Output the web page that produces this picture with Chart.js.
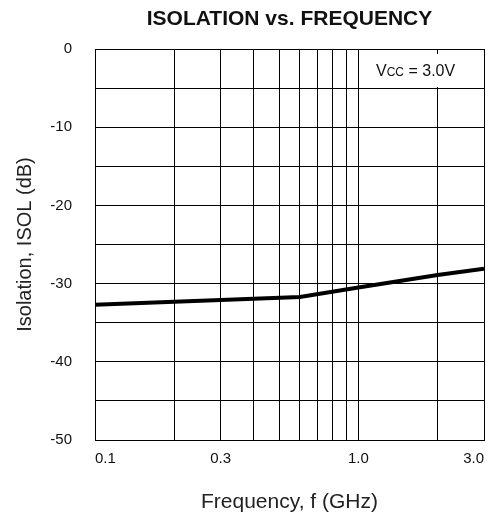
<!DOCTYPE html>
<html>
<head>
<meta charset="utf-8">
<title>Isolation vs. Frequency</title>
<script src="https://cdn.jsdelivr.net/npm/chart.js@4/dist/chart.umd.min.js"></script>
<style>
  html, body { margin: 0; padding: 0; background: #fff; }
  #wrap { width: 494px; height: 517px; position: relative; }
</style>
</head>
<body>
<div id="wrap"><canvas id="isoChart"></canvas></div>
<script>
// measured isolation curve, Vcc = 3.0V
const freqGHz = [0.1, 0.3, 0.6, 1.0, 2.0, 3.0];
const isolationDb = [-32.7, -32.1, -31.7, -30.5, -28.9, -28.1];

// log grid lines and which of them get a label
const freqGrid = [0.1, 0.2, 0.3, 0.4, 0.5, 0.6, 0.7, 0.8, 0.9, 1.0, 2.0, 3.0];
const freqLabels = [0.1, 0.3, 1.0, 3.0];
const dbLabelStep = 10;

const FONT = '"Liberation Sans", Arial, Helvetica, sans-serif';
const INK = '#111';

// white box with "VCC = 3.0V" in the top-right corner of the plot
const vccNote = {
  id: 'vccNote',
  beforeDatasetsDraw(chart) {
    const { ctx, chartArea } = chart;
    const x0 = chartArea.right - 116;
    const y0 = chartArea.top + 5;
    ctx.save();
    ctx.fillStyle = '#fff';
    ctx.fillRect(x0, y0, 97, 33);
    ctx.fillStyle = INK;
    ctx.textBaseline = 'alphabetic';
    ctx.textAlign = 'left';
    let x = x0 + 8;
    const base = y0 + 22;
    ctx.font = '16px ' + FONT;
    ctx.fillText('V', x, base);
    x += ctx.measureText('V').width;
    ctx.font = '12px ' + FONT;
    ctx.fillText('CC', x, base);
    x += ctx.measureText('CC').width;
    ctx.font = '16px ' + FONT;
    ctx.fillText(' = 3.0V', x, base);
    ctx.restore();
  }
};

new Chart(document.getElementById('isoChart'), {
  type: 'line',
  data: {
    datasets: [{
      data: freqGHz.map((f, i) => ({ x: f, y: isolationDb[i] })),
      borderColor: '#000',
      borderWidth: 4,
      pointRadius: 0,
      tension: 0,
      fill: false
    }]
  },
  options: {
    responsive: true,
    maintainAspectRatio: false,
    animation: false,
    layout: { padding: { top: 0, right: 1, bottom: 0, left: 0 } },
    plugins: {
      legend: { display: false },
      tooltip: { enabled: false },
      title: {
        display: true,
        text: 'ISOLATION vs. FREQUENCY',
        fullSize: false,
        color: INK,
        font: { family: FONT, size: 21, weight: 'bold', lineHeight: 1.2 },
        padding: { top: 7, bottom: 16.8 }
      }
    },
    scales: {
      x: {
        type: 'logarithmic',
        min: 0.1,
        max: 3,
        afterBuildTicks(scale) {
          scale.ticks = freqGrid.map(v => ({ value: v }));
        },
        afterFit(scale) {
          scale.height = 77;
        },
        grid: { color: '#000', lineWidth: 1, drawTicks: false },
        border: { color: '#000', width: 1 },
        ticks: {
          autoSkip: false,
          maxRotation: 0,
          align: 'inner',
          padding: 10,
          color: INK,
          font: { family: FONT, size: 15 },
          callback: v => freqLabels.includes(v) ? v.toFixed(1) : ''
        },
        title: {
          display: true,
          text: 'Frequency, f (GHz)',
          color: '#222',
          font: { family: FONT, size: 21 },
          padding: { top: 0, bottom: 2 }
        }
      },
      y: {
        min: -50,
        max: 0,
        afterFit(scale) {
          scale.width = 95;
        },
        grid: { color: '#000', lineWidth: 1, drawTicks: false },
        border: { color: '#000', width: 1 },
        ticks: {
          stepSize: 5,
          padding: 23,
          color: INK,
          font: { family: FONT, size: 15 },
          callback: v => v % dbLabelStep === 0 ? String(v) : ''
        },
        title: {
          display: true,
          text: 'Isolation, ISOL (dB)',
          color: '#222',
          font: { family: FONT, size: 20 },
          padding: { top: 13, bottom: 0 }
        }
      }
    }
  },
  plugins: [vccNote]
});
</script>
</body>
</html>
